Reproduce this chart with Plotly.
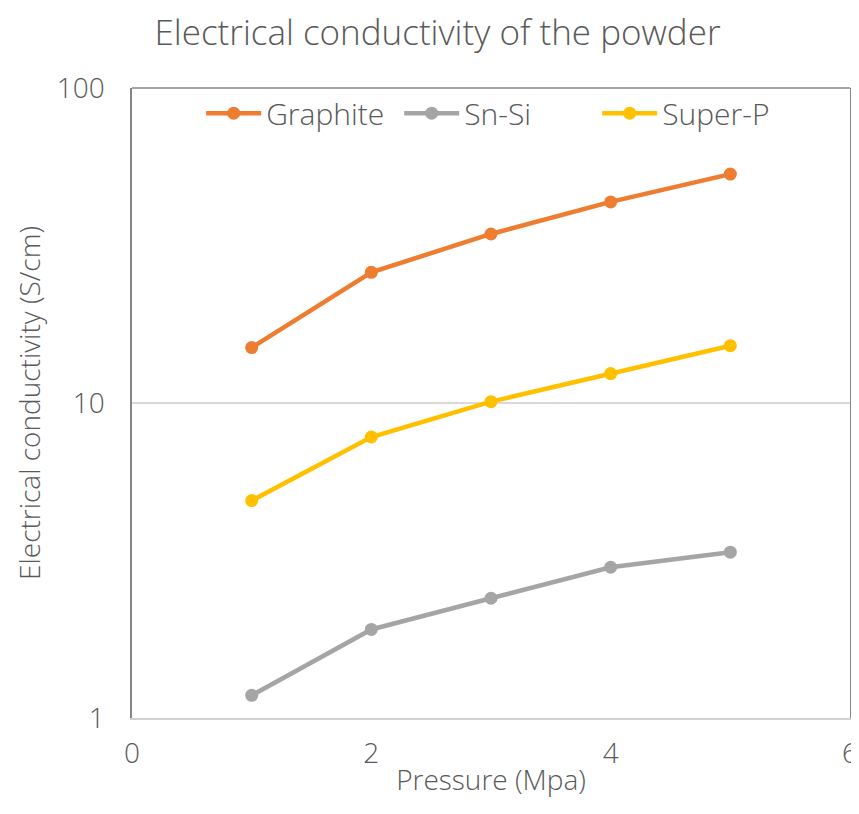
import plotly.graph_objects as go

pressure = [1, 2, 3, 4, 5]
graphite = [15.0, 26.0, 34.4, 43.5, 53.3]
sn_si = [1.18, 1.91, 2.40, 3.01, 3.36]
super_p = [4.9, 7.8, 10.1, 12.4, 15.2]

series = [
    ("Graphite", graphite, "#ED7D31"),
    ("Sn-Si", sn_si, "#A5A5A5"),
    ("Super-P", super_p, "#FFC000"),
]

FONT = "Open Sans"
TXT = "#595959"
FS = 28
W = 300

def f(size):
    return dict(family=FONT, size=size, color=TXT, weight=W)

fig = go.Figure()
for name, vals, col in series:
    fig.add_trace(go.Scatter(
        x=pressure, y=vals, name=name, mode="lines+markers",
        line=dict(color=col, width=4.5),
        marker=dict(color=col, size=13),
    ))

fig.update_layout(
    width=859, height=814,
    paper_bgcolor="white", plot_bgcolor="white",
    margin=dict(l=124, r=17, t=80, b=104, autoexpand=False),
    title=dict(text="Electrical conductivity of the powder",
               x=0.5, xanchor="center", y=0.97, yanchor="middle",
               font=f(35)),
    font=f(FS),
    legend=dict(orientation="h", x=0.51, xanchor="center", y=0.96, yanchor="middle",
                font=f(30), bgcolor="rgba(0,0,0,0)",
                itemwidth=55, entrywidth=128, entrywidthmode="pixels"),
    showlegend=True,
)

fig.update_xaxes(
    range=[0, 6], tickvals=[0, 2, 4, 6], showgrid=False, zeroline=False,
    showline=True, linecolor="#D0D0D0", linewidth=1.5,
    ticks="", ticklabelstandoff=10,
    tickfont=f(FS),
    title=dict(text="Pressure (Mpa)", font=f(FS), standoff=0),
)
fig.update_yaxes(
    type="log", range=[0, 2], tickvals=[1, 10, 100], ticktext=["1", "10", "100"],
    showgrid=True, gridcolor="#D9D9D9", gridwidth=1.5, zeroline=False,
    showline=True, linecolor="#868686", linewidth=1.5, mirror=True,
    ticks="", ticklabelstandoff=20,
    tickfont=f(FS),
    title=dict(text="Electrical conductivity (S/cm)", font=f(FS), standoff=8),
)
fig.add_shape(type="line", xref="paper", yref="paper", x0=0, x1=1, y0=1, y1=1,
              line=dict(color="#868686", width=1.5))

fig.write_html("out.html")
